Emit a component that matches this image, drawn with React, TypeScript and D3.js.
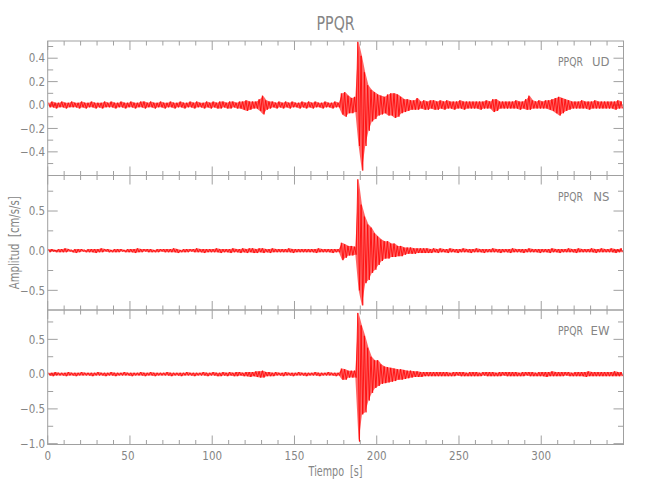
import React from 'react';
import * as d3 from 'd3';

// ---------- data (envelope of each trace, max/min per 2 s bin, in 0.01 cm/s/s) ----------
const STATION = 'PPQR';
const TITLE = 'PPQR';
const X_LABEL = 'Tiempo  [s]';
const Y_LABEL = 'Amplitud  [cm/s/s]';
const TIME_MAX = 350;
const BIN_SECONDS = 2;
const xMajorTicks = [0, 50, 100, 150, 200, 250, 300];
const xMinorTicks = [10, 20, 30, 40, 60, 70, 80, 90, 110, 120, 130, 140, 160, 170, 180, 190, 210, 220, 230, 240, 260, 270, 280, 290, 310, 320, 330, 340];

const udHi = [
  2,3,2,2,3,2,2,3,2,2, 3,2,2,3,2,2,2,3,2,3, 2,2,3,2,2,3,2,2,3,3, 2,3,2,2,3,2,2,3,2,2,
  3,2,2,3,2,3,2,2,3,2, 3,2,3,3,2,3,3,2,3,3, 4,3,3,3,5,8,4,3,3,2, 3,2,3,2,3,2,2,3,2,3,
  2,3,2,2,3,2,2,3,2,10, 11,8,6,7,54,42,28,17,13,11, 9,8,7,9,10,10,9,7,5,5, 4,4,6,3,4,3,4,4,3,4,
  3,4,3,3,3,4,3,3,3,3, 3,3,3,4,3,5,5,3,3,3, 3,3,4,3,3,5,8,4,3,4, 3,4,4,5,6,7,6,5,4,3,
  3,3,4,3,3,3,4,3,3,3, 3,3,3,4,3,
];
const udLo = [
  -2,-2,-3,-2,-2,-3,-2,-2,-2,-3, -2,-3,-2,-2,-3,-2,-3,-2,-2,-2, -3,-2,-2,-3,-2,-2,-3,-2,-2,-3, -2,-2,-3,-2,-2,-3,-2,-2,-3,-2,
  -2,-3,-2,-2,-3,-2,-2,-3,-2,-3, -2,-3,-3,-2,-3,-3,-2,-3,-3,-4, -5,-4,-3,-3,-5,-8,-4,-3,-2,-3, -2,-3,-2,-3,-2,-2,-3,-2,-3,-2,
  -3,-2,-2,-3,-2,-2,-3,-2,-2,-8, -10,-7,-7,-6,-35,-56,-35,-22,-14,-12, -9,-8,-7,-9,-9,-11,-10,-7,-6,-5, -4,-4,-4,-3,-4,-4,-3,-4,-4,-3,
  -4,-3,-3,-4,-3,-3,-4,-3,-3,-3, -3,-4,-3,-3,-3,-6,-5,-3,-3,-3, -3,-3,-3,-4,-3,-4,-4,-3,-3,-3, -3,-3,-4,-5,-7,-9,-7,-5,-4,-3,
  -3,-3,-3,-3,-4,-3,-3,-3,-3,-3, -3,-3,-4,-3,-3,
];

const nsHi = [
  2,2,1,2,2,3,2,1,2,2, 2,1,2,2,2,2,3,2,2,1, 2,2,2,1,2,2,2,3,2,2, 2,2,1,2,2,2,2,2,3,2,
  1,2,2,2,2,3,2,2,2,2, 2,3,2,2,2,2,3,2,2,3, 2,3,3,2,3,3,2,2,3,2, 2,2,2,3,2,2,2,2,2,2,
  2,2,3,2,2,2,2,2,2,10, 8,6,6,5,90,58,43,33,29,22, 18,14,12,12,9,9,6,6,4,4, 4,3,3,3,3,3,2,3,2,3,
  2,2,3,2,2,2,3,2,2,2, 3,2,2,2,2,3,2,2,2,2, 2,3,2,2,2,2,3,2,2,2, 2,2,2,3,2,2,2,2,3,2,
  2,3,2,2,2,3,2,2,3,2, 2,3,2,2,3,
];
const nsLo = [
  -2,-1,-2,-2,-2,-2,-1,-2,-3,-2, -1,-2,-2,-2,-3,-2,-2,-1,-2,-2, -2,-2,-1,-2,-2,-2,-3,-2,-2,-1, -2,-2,-2,-2,-1,-2,-2,-2,-2,-3,
  -2,-2,-2,-1,-2,-2,-2,-3,-2,-2, -2,-2,-3,-2,-2,-3,-2,-2,-3,-2, -3,-2,-3,-3,-2,-3,-2,-3,-2,-2, -2,-2,-2,-2,-3,-2,-2,-2,-2,-2,
  -2,-3,-2,-2,-2,-2,-3,-2,-2,-12, -9,-6,-6,-5,-50,-69,-41,-37,-28,-24, -18,-13,-10,-10,-8,-8,-7,-7,-5,-4, -4,-4,-3,-3,-3,-3,-3,-2,-3,-2,
  -2,-3,-2,-2,-3,-2,-2,-2,-3,-2, -2,-2,-3,-2,-2,-2,-2,-3,-2,-2, -3,-2,-2,-2,-3,-2,-2,-2,-2,-3, -2,-2,-3,-2,-2,-3,-2,-2,-2,-2,
  -3,-2,-2,-2,-2,-2,-3,-2,-2,-2, -2,-2,-3,-2,-2,
];

const ewHi = [
  2,2,3,2,2,2,3,2,2,2, 3,2,2,2,2,3,2,2,2,3, 2,2,2,3,2,2,2,2,3,2, 2,3,2,2,2,2,3,2,2,2,
  2,2,3,2,2,2,2,3,2,2, 3,2,2,3,2,3,2,3,3,2, 3,3,3,4,4,5,3,3,2,3, 2,2,3,2,2,2,3,2,2,2,
  2,3,2,2,2,3,2,2,2,8, 7,5,5,5,88,70,55,38,25,20, 20,14,11,10,9,8,7,7,6,5, 5,4,4,3,3,3,3,3,3,3,
  3,3,2,3,3,3,3,2,3,3, 3,2,3,3,3,3,2,3,3,3, 3,3,3,2,3,3,3,3,2,3, 3,3,3,4,3,3,3,3,3,2,
  3,3,3,3,4,3,3,3,3,3, 3,3,4,3,3,
];
const ewLo = [
  -2,-3,-2,-2,-2,-3,-2,-2,-3,-2, -2,-2,-2,-3,-2,-2,-2,-3,-2,-2, -3,-2,-2,-2,-2,-3,-2,-2,-2,-3, -2,-2,-3,-2,-2,-2,-2,-3,-2,-2,
  -3,-2,-2,-2,-3,-2,-2,-2,-3,-2, -2,-3,-3,-2,-3,-2,-3,-3,-2,-3, -3,-4,-3,-4,-5,-5,-3,-3,-3,-2, -2,-3,-2,-2,-3,-2,-2,-2,-3,-2,
  -2,-2,-3,-2,-2,-2,-2,-3,-2,-8, -8,-5,-5,-5,-97,-58,-55,-38,-27,-20, -17,-14,-13,-12,-11,-10,-8,-8,-7,-6, -5,-4,-4,-4,-3,-3,-3,-3,-3,-3,
  -3,-3,-3,-3,-2,-3,-3,-3,-3,-3, -3,-3,-2,-3,-3,-3,-3,-3,-2,-3, -3,-3,-3,-3,-3,-2,-3,-3,-3,-3, -3,-4,-3,-3,-3,-3,-3,-2,-3,-3,
  -3,-3,-3,-4,-3,-3,-3,-3,-3,-3, -3,-3,-3,-3,-3,
];

const udDomain = [-0.602, 0.547];
const nsDomain = [-0.748, 0.948];
const ewDomain = [-1.012, 0.922];
const udMajor = [-0.4, -0.2, 0, 0.2, 0.4];
const udMinor = [-0.5, -0.3, -0.1, 0.1, 0.3, 0.5];
const nsMajor = [-0.5, 0, 0.5];
const nsMinor = [-0.25, 0.25, 0.75];
const ewMajor = [-1.0, -0.5, 0, 0.5];
const ewMinor = [-0.75, -0.25, 0.25, 0.75];

// ---------- layout ----------
const W = 650, H = 500;
const LEFT = 47.7, RIGHT = 623.5, TOP = 41, PANEL_H = 134.5;
const AXIS = '#a0a0a0';
const TEXT = '#858585';
const FONT = "'Liberation Sans Narrow', 'DejaVu Sans Condensed', 'Liberation Sans', sans-serif";

const panels = [
  { comp: 'UD', hi: udHi, lo: udLo, domain: udDomain, major: udMajor, minor: udMinor },
  { comp: 'NS', hi: nsHi, lo: nsLo, domain: nsDomain, major: nsMajor, minor: nsMinor },
  { comp: 'EW', hi: ewHi, lo: ewLo, domain: ewDomain, major: ewMajor, minor: ewMinor },
];

const x = d3.scaleLinear().domain([0, TIME_MAX]).range([LEFT, RIGHT]);

type Bin = { t: number; hi: number; lo: number };
function bins(hi: number[], lo: number[]): Bin[] {
  return hi.map((h, i) => ({ t: BIN_SECONDS * (i + 0.5), hi: h * 0.01, lo: lo[i] * 0.01 }));
}
function zigzag(b: Bin[]): [number, number][] {
  const pts: [number, number][] = [];
  b.forEach(d => {
    pts.push([d.t - 0.5, d.hi]);
    pts.push([d.t + 0.5, d.lo]);
  });
  return pts;
}

const fmt = (v: number) => (v < 0 ? '\u2212' : '') + Math.abs(v).toFixed(1);

function Panel({ idx }: { idx: number }) {
  const p = panels[idx];
  const top = TOP + idx * PANEL_H;
  const bottom = top + PANEL_H;
  const y = d3.scaleLinear().domain(p.domain).range([bottom, top]);
  const b = bins(p.hi, p.lo);
  const area = d3.area<Bin>().x(d => x(d.t)).y0(d => y(d.lo)).y1(d => y(d.hi))(b) || '';
  const line = d3.line<[number, number]>().x(d => x(d[0])).y(d => y(d[1]))(zigzag(b)) || '';
  const isLast = idx === panels.length - 1;
  return (
    <g>
      <rect x={LEFT} y={top} width={RIGHT - LEFT} height={PANEL_H} fill="none" stroke={AXIS} strokeWidth={1} />
      {xMajorTicks.map(t => (
        <g key={'xM' + t}>
          <line x1={x(t)} x2={x(t)} y1={bottom} y2={bottom - 9} stroke={AXIS} />
          <line x1={x(t)} x2={x(t)} y1={top} y2={top + 9} stroke={AXIS} />
        </g>
      ))}
      {xMinorTicks.map(t => (
        <g key={'xm' + t}>
          <line x1={x(t)} x2={x(t)} y1={bottom} y2={bottom - 4.5} stroke={AXIS} />
          <line x1={x(t)} x2={x(t)} y1={top} y2={top + 4.5} stroke={AXIS} />
        </g>
      ))}
      {p.major.map(v => (
        <g key={'yM' + v}>
          <line x1={LEFT} x2={LEFT + 10} y1={y(v)} y2={y(v)} stroke={AXIS} />
          <line x1={RIGHT} x2={RIGHT - 10} y1={y(v)} y2={y(v)} stroke={AXIS} />
          <text x={LEFT - 2.5} y={y(v) + 4.2} textAnchor="end" fontSize={11.5} fill={TEXT} fontFamily={FONT}>{fmt(v)}</text>
        </g>
      ))}
      {p.minor.map(v => (
        <g key={'ym' + v}>
          <line x1={LEFT} x2={LEFT + 5.5} y1={y(v)} y2={y(v)} stroke={AXIS} />
          <line x1={RIGHT} x2={RIGHT - 5.5} y1={y(v)} y2={y(v)} stroke={AXIS} />
        </g>
      ))}
      {isLast && xMajorTicks.map(t => (
        <text key={'xl' + t} x={x(t) - (t === 50 ? 2 : 0)} y={bottom + 15} textAnchor="middle" fontSize={11.5} fill={TEXT} fontFamily={FONT}>{t}</text>
      ))}
      <text x={558} y={top + 25} fontSize={13} fill={TEXT} fontFamily={FONT} textLength={25} lengthAdjust="spacingAndGlyphs">{STATION}</text>
      <text x={609.5} y={top + 25} textAnchor="end" fontSize={13} fill={TEXT} fontFamily={FONT}>{p.comp}</text>
      <path d={area} fill="#ff0000" fillOpacity={0.6} stroke="none" />
      <path d={line} fill="none" stroke="#ff0000" strokeWidth={0.8} strokeLinejoin="round" />
    </g>
  );
}

export default function App() {
  const midX = (LEFT + RIGHT) / 2;
  const midY = TOP + (PANEL_H * 3) / 2;
  return (
    <svg width={W} height={H} style={{ position: 'absolute', left: 0, top: 0, background: '#fff' }}>
      <rect x={0} y={0} width={W} height={H} fill="#fff" />
      <text x={midX} y={30} textAnchor="middle" fontSize={20} fill={TEXT} fontFamily={FONT} textLength={38} lengthAdjust="spacingAndGlyphs">{TITLE}</text>
      {panels.map((_, i) => <Panel key={i} idx={i} />)}
      <text x={midX} y={476} textAnchor="middle" fontSize={14} fill={TEXT} fontFamily={FONT} textLength={54} lengthAdjust="spacingAndGlyphs" style={{ whiteSpace: 'pre' }}>{X_LABEL}</text>
      <text transform={`translate(19,${midY}) rotate(-90)`} textAnchor="middle" fontSize={14} fill={TEXT} fontFamily={FONT} textLength={93} lengthAdjust="spacingAndGlyphs" style={{ whiteSpace: 'pre' }}>{Y_LABEL}</text>
    </svg>
  );
}
